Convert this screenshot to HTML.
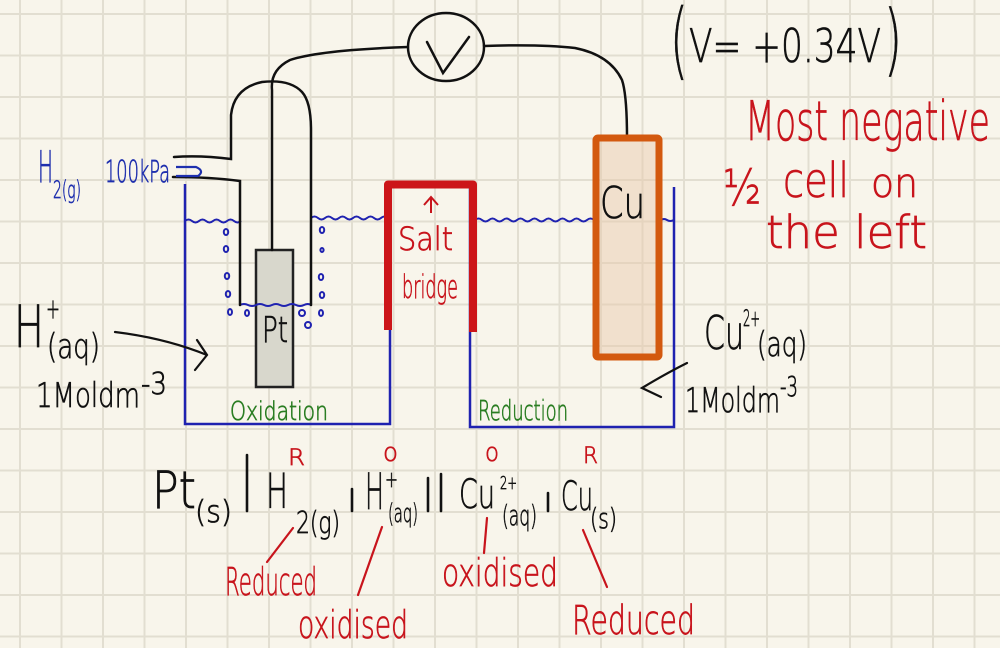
<!DOCTYPE html>
<html><head><meta charset="utf-8"><style>
html,body{margin:0;padding:0;background:#f8f5eb;}
svg{display:block;}
text{font-family:"DejaVu Sans","Liberation Sans",sans-serif;font-weight:200;stroke-width:0.7px;}
</style></head><body>
<svg width="1000" height="648" viewBox="0 0 1000 648" xmlns="http://www.w3.org/2000/svg">
<defs>
<pattern id="g" x="19" y="13" width="41.5" height="41.5" patternUnits="userSpaceOnUse">
<path d="M0 1H41.5M1 0V41.5" stroke="#e2ded1" stroke-width="2" fill="none"/>
</pattern>
</defs>
<rect width="1000" height="648" fill="#f8f5eb"/>
<rect width="1000" height="648" fill="url(#g)"/>

<!-- Pt electrode -->
<rect x="256" y="250" width="37" height="137" fill="#d8d7cc" stroke="#222" stroke-width="2.5"/>
<text x="262" y="342" font-size="36" textLength="26" lengthAdjust="spacingAndGlyphs" fill="#111" stroke="#111">Pt</text>

<!-- Beakers -->
<g fill="none" stroke="#1f22b0" stroke-width="2.5">
<path d="M185 184V424H390V186"/>
<path d="M470 187V427H674V187"/>
<path d="M185 221q3.5-3 7 0t7 0t7 0t7 0t7 0t7 0t7 0t7 0" stroke-width="2"/>
<path d="M311 218q3.5-3 7 0t7 0t7 0t7 0t7 0t7 0t7 0t7 0t7 0t7 0t7 0" stroke-width="2"/>
<path d="M240 305q4-2 8 0t8 0t8 0t8 0t8 0t8 0t8 0t8 0t7 0" stroke-width="2"/>
<path d="M475 220q3.5-3 7 0t7 0t7 0t7 0t7 0t7 0t7 0t7 0t7 0t7 0t7 0t7 0t7 0t7 0t7 0t7 0t7 0" stroke-width="2"/>
<path d="M661 220q3-2 6 0t7 0" stroke-width="2"/>
</g>
<g fill="none" stroke="#1f22b0" stroke-width="2">
<ellipse cx="226" cy="232" rx="2.2" ry="3"/>
<ellipse cx="226" cy="249" rx="2.2" ry="3"/>
<ellipse cx="227" cy="276" rx="2.2" ry="3"/>
<ellipse cx="228" cy="294" rx="2.2" ry="3"/>
<ellipse cx="230" cy="312" rx="2" ry="3"/>
<ellipse cx="247" cy="313" rx="2" ry="3"/>
<ellipse cx="322" cy="230" rx="2.2" ry="3"/>
<ellipse cx="322" cy="250" rx="1.6" ry="2"/>
<ellipse cx="321" cy="277" rx="2.2" ry="3"/>
<ellipse cx="322" cy="295" rx="2.2" ry="3"/>
<ellipse cx="321" cy="313" rx="2" ry="3"/>
<ellipse cx="302" cy="313" rx="3" ry="3"/>
<ellipse cx="308" cy="325" rx="3" ry="3"/>
</g>

<!-- Tube, wires, voltmeter -->
<g fill="none" stroke="#111" stroke-width="2.5" stroke-linecap="round">
<path d="M174 157Q200 155 231 159V115Q234 88 262 82Q290 79 302 92Q311 102 311 130V305"/>
<path d="M173 177Q210 177 240 181V305"/>
<path d="M272 250V90Q270 70 290 60Q320 50 408 47"/>
<ellipse cx="446" cy="47" rx="38" ry="34"/>
<path d="M427 42L443 73L469 37"/>
<path d="M484 46Q540 44 575 48Q610 55 622 80Q627 95 627 138"/>
</g>

<!-- Cu electrode -->
<rect x="596" y="138" width="63" height="219" rx="2" fill="#e9c8a8" fill-opacity="0.45" stroke="#d3590f" stroke-width="7"/>
<text x="600" y="218" font-size="44" textLength="45" lengthAdjust="spacingAndGlyphs" fill="#111" stroke="#111">Cu</text>

<!-- Salt bridge -->
<path d="M388 330V184.5H473V332" fill="none" stroke="#cc1519" stroke-width="8" stroke-linejoin="round"/>
<path d="M431 213V198M424 205L431 197L438 205" fill="none" stroke="#c8141c" stroke-width="2"/>
<text x="398" y="250" font-size="32" textLength="55" lengthAdjust="spacingAndGlyphs" fill="#c8141c" stroke="#c8141c">Salt</text>
<text x="402" y="298" font-size="32" textLength="56" lengthAdjust="spacingAndGlyphs" fill="#c8141c" stroke="#c8141c">bridge</text>

<!-- Green labels -->
<text x="230" y="420" font-size="26" textLength="98" lengthAdjust="spacingAndGlyphs" fill="#2a7d22" stroke="#2a7d22">Oxidation</text>
<text x="478" y="420" font-size="28" textLength="90" lengthAdjust="spacingAndGlyphs" fill="#2a7d22" stroke="#2a7d22">Reduction</text>

<!-- H2 label -->
<g fill="#1e2fae" stroke="#1e2fae">
<text x="38" y="182" font-size="44" textLength="15" lengthAdjust="spacingAndGlyphs">H</text>
<text x="53" y="198" font-size="24" textLength="28" lengthAdjust="spacingAndGlyphs">2(g)</text>
<text x="105" y="182" font-size="30" textLength="65" lengthAdjust="spacingAndGlyphs">100kPa</text>
</g>
<path d="M176 167H196Q205 171 198 176H176" fill="none" stroke="#1e2fae" stroke-width="2.2"/>

<!-- H+ label -->
<g fill="#111" stroke="#111">
<text x="14" y="347" font-size="58" textLength="30" lengthAdjust="spacingAndGlyphs">H</text>
<text x="46" y="318" font-size="28" textLength="14" lengthAdjust="spacingAndGlyphs">+</text>
<text x="47" y="358" font-size="34" textLength="53" lengthAdjust="spacingAndGlyphs">(aq)</text>
<text x="36" y="407" font-size="34" textLength="104" lengthAdjust="spacingAndGlyphs">1Moldm</text>
<text x="141" y="394" font-size="30" textLength="26" lengthAdjust="spacingAndGlyphs">-3</text>
</g>
<path d="M115 332Q165 338 207 355M197 340L207 355L195 370" fill="none" stroke="#111" stroke-width="2.2" stroke-linecap="round"/>

<!-- Cu2+ label -->
<g fill="#111" stroke="#111">
<text x="704" y="349" font-size="46" textLength="40" lengthAdjust="spacingAndGlyphs">Cu</text>
<text x="743" y="326" font-size="22" textLength="17" lengthAdjust="spacingAndGlyphs">2+</text>
<text x="757" y="356" font-size="34" textLength="50" lengthAdjust="spacingAndGlyphs">(aq)</text>
<text x="685" y="412" font-size="34" textLength="95" lengthAdjust="spacingAndGlyphs">1Moldm</text>
<text x="780" y="396" font-size="28" textLength="18" lengthAdjust="spacingAndGlyphs">-3</text>
</g>
<path d="M687 363Q665 374 642 388L661 397" fill="none" stroke="#111" stroke-width="2.2" stroke-linecap="round"/>

<!-- V = +0.34V -->
<g fill="#111" stroke="#111">
<text x="670" y="69" font-size="84" textLength="18" lengthAdjust="spacingAndGlyphs">(</text>
<text x="689" y="62" font-size="46" textLength="192" lengthAdjust="spacingAndGlyphs">V= +0.34V</text>
<text x="884" y="66" font-size="78" textLength="18" lengthAdjust="spacingAndGlyphs">)</text>
</g>

<!-- red note -->
<g fill="#c8141c" stroke="#c8141c">
<text x="745" y="140" font-size="54" textLength="245" lengthAdjust="spacingAndGlyphs">Most negative</text>
<text x="723" y="205" font-size="50" textLength="38" lengthAdjust="spacingAndGlyphs">½</text>
<text x="783" y="197" font-size="48" textLength="66" lengthAdjust="spacingAndGlyphs">cell</text>
<text x="871" y="197" font-size="40" textLength="47" lengthAdjust="spacingAndGlyphs">on</text>
<text x="766" y="248" font-size="45" textLength="161" lengthAdjust="spacingAndGlyphs">the left</text>
</g>

<!-- Cell notation -->
<g fill="#111" stroke="#111">
<text x="152" y="508" font-size="52" textLength="44" lengthAdjust="spacingAndGlyphs">Pt</text>
<text x="195" y="522" font-size="30" textLength="37" lengthAdjust="spacingAndGlyphs">(s)</text>
<text x="266" y="508" font-size="48" textLength="22" lengthAdjust="spacingAndGlyphs">H</text>
<text x="296" y="533" font-size="30" textLength="44" lengthAdjust="spacingAndGlyphs">2(g)</text>
<text x="365" y="509" font-size="50" textLength="19" lengthAdjust="spacingAndGlyphs">H</text>
<text x="385" y="487" font-size="22" textLength="13" lengthAdjust="spacingAndGlyphs">+</text>
<text x="388" y="522" font-size="26" textLength="30" lengthAdjust="spacingAndGlyphs">(aq)</text>
<text x="459" y="508" font-size="40" textLength="36" lengthAdjust="spacingAndGlyphs">Cu</text>
<text x="500" y="489" font-size="18" textLength="17" lengthAdjust="spacingAndGlyphs">2+</text>
<text x="502" y="525" font-size="28" textLength="35" lengthAdjust="spacingAndGlyphs">(aq)</text>
<text x="561" y="510" font-size="40" textLength="32" lengthAdjust="spacingAndGlyphs">Cu</text>
<text x="590" y="528" font-size="28" textLength="27" lengthAdjust="spacingAndGlyphs">(s)</text>
</g>
<g stroke="#111" stroke-width="2.6" stroke-linecap="round">
<line x1="247" y1="455" x2="247" y2="511"/>
<line x1="352" y1="489" x2="352" y2="511"/>
<line x1="428" y1="478" x2="428" y2="511"/>
<line x1="441" y1="474" x2="441" y2="511"/>
<line x1="548" y1="493" x2="548" y2="511"/>
</g>

<!-- red annotations -->
<g fill="#c8141c" stroke="#c8141c">
<text x="288" y="465" font-size="22" textLength="17" lengthAdjust="spacingAndGlyphs">R</text>
<text x="383" y="461" font-size="26" textLength="15" lengthAdjust="spacingAndGlyphs">o</text>
<text x="485" y="461" font-size="26" textLength="14" lengthAdjust="spacingAndGlyphs">o</text>
<text x="583" y="463" font-size="22" textLength="15" lengthAdjust="spacingAndGlyphs">R</text>
<text x="225" y="595" font-size="38" textLength="92" lengthAdjust="spacingAndGlyphs">Reduced</text>
<text x="298" y="638" font-size="38" textLength="110" lengthAdjust="spacingAndGlyphs">oxidised</text>
<text x="442" y="586" font-size="38" textLength="116" lengthAdjust="spacingAndGlyphs">oxidised</text>
<text x="572" y="634" font-size="40" textLength="123" lengthAdjust="spacingAndGlyphs">Reduced</text>
</g>
<g stroke="#c8141c" stroke-width="2.2" stroke-linecap="round" fill="none">
<line x1="293" y1="528" x2="267" y2="562"/>
<line x1="382" y1="527" x2="358" y2="595"/>
<line x1="487" y1="518" x2="484" y2="553"/>
<line x1="583" y1="530" x2="607" y2="587"/>
</g>
</svg>
</body></html>
